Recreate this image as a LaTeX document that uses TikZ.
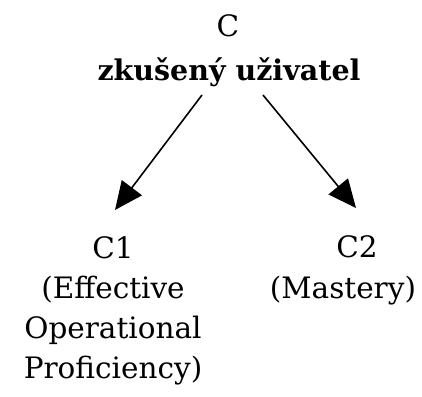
\documentclass[tikz,border=0pt]{standalone}
\usepackage{fontspec}
\setmainfont{DejaVu Serif}
\usetikzlibrary{arrows.meta}

\begin{document}
\begin{tikzpicture}[x=1pt, y=-1pt, >={Triangle[length=28pt, width=25pt]},
    lvl/.style={anchor=base, inner sep=2pt, align=center, font=\fontsize{29.5}{40}\selectfont},
    big/.style={anchor=base, inner sep=2pt, font=\bfseries\fontsize{28.5}{40}\selectfont}]
    \useasboundingbox (0,0) rectangle (422,396);

    \node[lvl] (levelc) at (228,37) {C};
    \node[big] (head) at (229,80) {zkušený uživatel};

    % base of a multi-line node is its last line
    \node[lvl] (c1) at (113,378) {C1\\(Effective\\Operational\\Proficiency)};
    \node[lvl] (c2) at (357,257) {C2};
    \node[lvl] (mastery) at (343,298) {(Mastery)};

    \coordinate (from1) at (202,95);
    \coordinate (to1) at (115,210);
    \coordinate (from2) at (263,95);
    \coordinate (to2) at (356,208);

    \draw[line width=1.6pt, ->] (from1) -- (to1);
    \draw[line width=1.6pt, ->] (from2) -- (to2);
\end{tikzpicture}
\end{document}
